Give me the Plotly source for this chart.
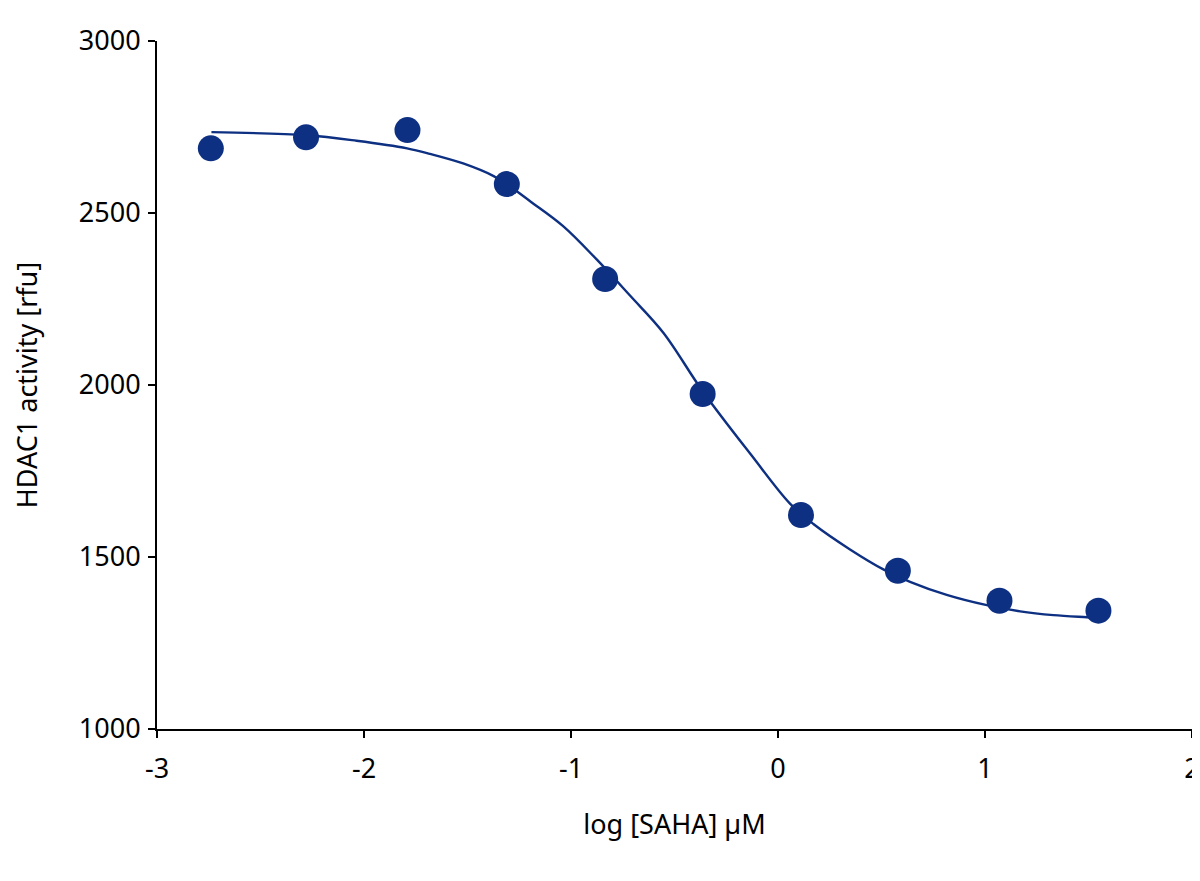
import plotly.graph_objects as go

# measured data points (log concentration, activity)
log_conc = [-2.74, -2.28, -1.79, -1.31, -0.835, -0.364, 0.111, 0.579, 1.07, 1.548]
activity = [2688, 2720, 2741, 2584, 2308, 1974, 1622, 1460, 1373, 1344]

# fitted curve
fit_x = [-2.737, -2.278, -2.036, -1.792, -1.682, -1.521, -1.376, -1.311, -1.199,
         -1.038, -0.876, -0.715, -0.554, -0.364, -0.130, 0.058,
         0.171, 0.348, 0.509, 0.638, 0.815, 1.009, 1.170, 1.331, 1.492, 1.548]
fit_y = [2735, 2726, 2710, 2688, 2672, 2644, 2608, 2584, 2535,
         2462, 2365, 2260, 2152, 1982, 1797, 1655,
         1596, 1522, 1464, 1428, 1390, 1360, 1342, 1331, 1325, 1323]

x_ticks = [-3, -2, -1, 0, 1, 2]
y_ticks = [1000, 1500, 2000, 2500, 3000]

navy = '#0e3082'
font_name = 'Noto Sans'

fig = go.Figure()

fig.add_trace(go.Scatter(
    x=fit_x, y=fit_y,
    mode='lines',
    line=dict(color=navy, width=2.4, shape='spline', smoothing=1.0),
    hoverinfo='skip'
))

fig.add_trace(go.Scatter(
    x=log_conc, y=activity,
    mode='markers',
    marker=dict(color=navy, size=26, line=dict(width=0)),
))

axis_style = dict(
    showline=True, linecolor='black', linewidth=2,
    ticks='outside', ticklen=7, tickwidth=2, tickcolor='black',
    showgrid=False, zeroline=False, automargin=False,
    ticklabeloverflow='allow',
    tickfont=dict(family=font_name, size=27, color='black'),
)

fig.update_xaxes(
    range=[-3, 2], tickvals=x_ticks,
    ticktext=[str(t) for t in x_ticks],
    title=dict(text='log [SAHA] µM', standoff=30,
               font=dict(family=font_name, size=27, color='black')),
    ticklabelstandoff=8,
    **axis_style
)
fig.update_yaxes(
    range=[1000, 3000], tickvals=y_ticks,
    title=dict(text='HDAC1 activity [rfu]', standoff=48,
               font=dict(family=font_name, size=27, color='black')),
    ticklabelstandoff=2,
    **axis_style
)

# the page has an 8px body margin; size the figure so it fits the window
fig.update_layout(
    width=1192, height=860,
    margin=dict(l=149, r=8, t=33, b=139),
    plot_bgcolor='white', paper_bgcolor='white',
    showlegend=False,
)

fig.write_html('out.html')
